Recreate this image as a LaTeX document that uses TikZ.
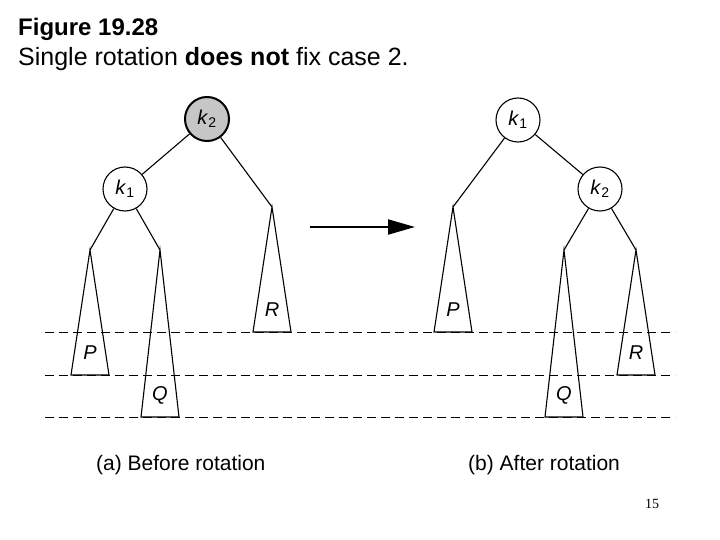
\documentclass[tikz,border=0pt]{standalone}
\usepackage{fontspec}
\setmainfont{Liberation Sans}
\newfontfamily\timesfont{Liberation Serif}
\usetikzlibrary{arrows.meta}
\tikzset{
  clave/.style={circle, draw, line width=1.1pt, minimum size=44pt, inner sep=0pt, font=\fontsize{20}{20}\selectfont},
  raiz/.style={clave, fill=gray!45, line width=2pt},
  arista/.style={line width=1.1pt},
  subarbol/.style={line width=1.1pt, line join=miter},
  nivel/.style={dash pattern=on 9pt off 5pt, line width=1pt},
  etiq/.style={font=\fontsize{20}{20}\selectfont\itshape},
  texto/.style={anchor=base west, inner sep=0pt}
}
\newcommand{\kk}[1]{\textit{k}\textsubscript{#1}}
\begin{document}
\begin{tikzpicture}[x=1pt,y=-1pt]
	\useasboundingbox (0,0) rectangle (720,540);
	% Titulo
	\node[texto, font=\fontsize{24}{24}\selectfont\bfseries] (tit) at (18,36) {Figure 19.28};
	\node[texto, font=\fontsize{25}{25}\selectfont] (sub) at (18,66) {Single rotation \textbf{does not} fix case 2.};
	% Niveles
	\foreach \y in {332,375,417}
		\draw[nivel] (45,\y) coordinate (ini\y) -- (675,\y) coordinate (fin\y);
	% Subarboles
	\foreach \n/\x/\ya/\yb/\t in {PL/90/250/375/P, QL/160/250/417/Q, RL/272/207/332/R,
			PR/453/207/332/P, QR/564/250/417/Q, RR/636/250/375/R} {
		\coordinate (\n) at (\x,\ya);
		\draw[subarbol] (\n) -- (\x-19,\yb) -- (\x+19,\yb) -- cycle;
		\node[etiq] (\n t) at (\x,\yb-22) {\t};
	}
	% Antes de la rotacion
	\node[raiz] (k2a) at (207,119) {\kk{2}};
	\node[clave] (k1a) at (125,189) {\kk{1}};
	\draw[arista] (k2a) -- (k1a);
	\draw[arista] (k2a) -- (RL);
	\draw[arista] (k1a) -- (PL);
	\draw[arista] (k1a) -- (QL);
	% Despues de la rotacion
	\node[clave] (k1b) at (518,120) {\kk{1}};
	\node[clave] (k2b) at (600,189) {\kk{2}};
	\draw[arista] (k1b) -- (PR);
	\draw[arista] (k1b) -- (k2b);
	\draw[arista] (k2b) -- (QR);
	\draw[arista] (k2b) -- (RR);
	% Flecha
	\coordinate (fa) at (310,227);
	\coordinate (fb) at (415,227);
	\draw[line width=2pt, -{Triangle[length=27pt,width=15pt]}] (fa) -- (fb);
	% Leyendas
	\node[texto, font=\fontsize{21}{21}\selectfont] (capa) at (96,470) {(a) Before rotation};
	\node[texto, font=\fontsize{21}{21}\selectfont] (capb) at (468,470) {(b) After rotation};
	\node[font=\timesfont\fontsize{14}{14}\selectfont] (pag) at (652,504) {15};
\end{tikzpicture}
\end{document}
